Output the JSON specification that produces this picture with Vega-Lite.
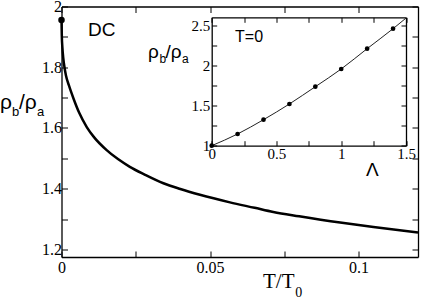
{
  "$schema": "https://vega.github.io/schema/vega-lite/v6.json",
  "width": 356.5,
  "height": 250.5,
  "autosize": {"type": "none"},
  "padding": {"left": 61.5, "top": 6.5, "right": 3, "bottom": 44},
  "background": "white",
  "config": {
    "view": {"stroke": null},
    "axis": {
      "grid": false,
      "domainColor": "black",
      "domainWidth": 1.3,
      "tickColor": "black",
      "tickWidth": 1,
      "labelColor": "black",
      "labelFont": "Liberation Serif",
      "labelFlush": false,
      "labelOverlap": false,
      "title": null
    }
  },
  "datasets": {
    "main": [
      {"T": 0, "r": 1.9555},
      {"T": 0.0001, "r": 1.905},
      {"T": 0.0003, "r": 1.865},
      {"T": 0.0006, "r": 1.83},
      {"T": 0.001, "r": 1.8},
      {"T": 0.0015, "r": 1.773},
      {"T": 0.0025, "r": 1.74},
      {"T": 0.004, "r": 1.698},
      {"T": 0.006, "r": 1.649},
      {"T": 0.0085, "r": 1.603},
      {"T": 0.011, "r": 1.569},
      {"T": 0.0152, "r": 1.527},
      {"T": 0.019, "r": 1.4974},
      {"T": 0.023, "r": 1.472},
      {"T": 0.028, "r": 1.4466},
      {"T": 0.0343, "r": 1.418},
      {"T": 0.04, "r": 1.399},
      {"T": 0.0466, "r": 1.38},
      {"T": 0.0567, "r": 1.355},
      {"T": 0.065, "r": 1.337},
      {"T": 0.0713, "r": 1.3232},
      {"T": 0.08, "r": 1.309},
      {"T": 0.0938, "r": 1.2883},
      {"T": 0.105, "r": 1.2735},
      {"T": 0.12, "r": 1.256}
    ],
    "dot": [{"T": 0, "r": 1.9555}],
    "insetLine": [
      {"L": 0, "v": 1.0},
      {"L": 0.2, "v": 1.146},
      {"L": 0.4, "v": 1.324},
      {"L": 0.6, "v": 1.52},
      {"L": 0.8, "v": 1.735},
      {"L": 1.0, "v": 1.956},
      {"L": 1.2, "v": 2.209},
      {"L": 1.4, "v": 2.458},
      {"L": 1.5, "v": 2.59}
    ],
    "insetPts": [
      {"L": 0, "v": 1.0},
      {"L": 0.2, "v": 1.146},
      {"L": 0.4, "v": 1.324},
      {"L": 0.6, "v": 1.52},
      {"L": 0.8, "v": 1.735},
      {"L": 1.0, "v": 1.956},
      {"L": 1.2, "v": 2.209},
      {"L": 1.4, "v": 2.458}
    ],
    "mainBig": [
      {"t": "ρ", "x": -0.0207, "y": 1.662},
      {"t": "/ρ", "x": -0.01431, "y": 1.662}
    ],
    "mainSub": [
      {"t": "b", "x": -0.0167, "y": 1.6393},
      {"t": "a", "x": -0.00825, "y": 1.6393}
    ],
    "mainSerif": [{"t": "T/T", "x": 0.06784, "y": 1.0728}],
    "mainSerifSub": [{"t": "0", "x": 0.07868, "y": 1.0432}],
    "dc": [{"t": "DC", "x": 0.00892, "y": 1.9012}],
    "insetBig": [
      {"t": "ρ", "x": -0.4918, "y": 2.0928},
      {"t": "/ρ", "x": -0.3567, "y": 2.0928}
    ],
    "insetSub": [
      {"t": "b", "x": -0.4028, "y": 2.0305},
      {"t": "a", "x": -0.2293, "y": 2.0305}
    ],
    "t0": [{"t": "T=0", "x": 0.18, "y": 2.2885}],
    "lam": [{"t": "Λ", "x": 1.191, "y": 0.6224}]
  },
  "resolve": {
    "scale": {"x": "independent", "y": "independent"},
    "axis": {"x": "independent", "y": "independent"}
  },
  "layer": [
    {
      "data": {"name": "main"},
      "mark": {"type": "line", "color": "black", "strokeWidth": 2.5, "interpolate": "monotone"},
      "encoding": {
        "x": {"field": "T", "type": "quantitative",
          "scale": {"domain": [0, 0.12], "nice": false, "zero": false},
          "axis": {"orient": "bottom", "values": [0, 0.025, 0.05, 0.075, 0.1],
            "labelExpr": "abs(round(datum.value*40) % 2) == 1 ? '' : format(datum.value, '~g')",
            "tickSize": -6, "labelPadding": 8.5, "labelFontSize": 16}},
        "y": {"field": "r", "type": "quantitative",
          "scale": {"domain": [1.175, 2.0], "nice": false, "zero": false},
          "axis": {"orient": "left", "values": [1.2, 1.3, 1.4, 1.5, 1.6, 1.7, 1.8, 1.9, 2.0],
            "labelExpr": "round(datum.value*10) % 2 == 1 ? '' : format(datum.value, '~g')",
            "tickSize": -6, "labelPadding": 6, "labelFontSize": 16}}
      }
    },
    {
      "data": {"name": "dot"},
      "mark": {"type": "point", "filled": true, "color": "black", "opacity": 1, "size": 42},
      "encoding": {
        "x": {"field": "T", "type": "quantitative",
          "scale": {"domain": [0, 0.12], "nice": false, "zero": false},
          "axis": {"orient": "top", "values": [0, 0.025, 0.05, 0.075, 0.1], "labels": false, "tickSize": -6}},
        "y": {"field": "r", "type": "quantitative",
          "scale": {"domain": [1.175, 2.0], "nice": false, "zero": false},
          "axis": {"orient": "right", "values": [1.2, 1.3, 1.4, 1.5, 1.6, 1.7, 1.8, 1.9, 2.0], "labels": false, "tickSize": -6}}
      }
    },
    {
      "data": {"name": "insetLine"},
      "mark": {"type": "line", "color": "#222222", "strokeWidth": 1, "interpolate": "monotone"},
      "encoding": {
        "x": {"field": "L", "type": "quantitative",
          "scale": {"domain": [0, 1.5], "range": [150.2, 344.5], "nice": false, "zero": false},
          "axis": {"orient": "bottom", "offset": -111.3, "values": [0, 0.25, 0.5, 0.75, 1, 1.25, 1.5],
            "labelExpr": "round(datum.value*4) % 2 == 1 ? '' : format(datum.value, '~g')",
            "tickSize": -5, "labelPadding": 6, "labelFontSize": 15}},
        "y": {"field": "v", "type": "quantitative",
          "scale": {"domain": [1, 2.6], "range": [139.2, 10.8], "nice": false, "zero": false},
          "axis": {"orient": "left", "offset": -150.2, "values": [1, 1.25, 1.5, 1.75, 2, 2.25, 2.5],
            "labelExpr": "round(datum.value*4) % 2 == 1 ? '' : format(datum.value, '~g')",
            "tickSize": -5, "labelPadding": 7, "labelFontSize": 15}}
      }
    },
    {
      "data": {"name": "insetPts"},
      "mark": {"type": "point", "filled": true, "color": "black", "opacity": 1, "size": 22},
      "encoding": {
        "x": {"field": "L", "type": "quantitative",
          "scale": {"domain": [0, 1.5], "range": [150.2, 344.5], "nice": false, "zero": false},
          "axis": {"orient": "top", "offset": -10.8, "values": [0, 0.25, 0.5, 0.75, 1, 1.25, 1.5], "labels": false, "tickSize": -5}},
        "y": {"field": "v", "type": "quantitative",
          "scale": {"domain": [1, 2.6], "range": [139.2, 10.8], "nice": false, "zero": false},
          "axis": {"orient": "right", "offset": -12, "values": [1, 1.25, 1.5, 1.75, 2, 2.25, 2.5], "labels": false, "tickSize": -5}}
      }
    },
    {
      "data": {"name": "mainBig"},
      "mark": {"type": "text", "font": "Liberation Sans", "fontSize": 21, "align": "left", "baseline": "alphabetic", "color": "black"},
      "encoding": {
        "text": {"field": "t"},
        "x": {"field": "x", "type": "quantitative", "scale": {"domain": [0, 0.12], "nice": false, "zero": false}, "axis": null},
        "y": {"field": "y", "type": "quantitative", "scale": {"domain": [1.175, 2.0], "nice": false, "zero": false}, "axis": null}
      }
    },
    {
      "data": {"name": "mainSub"},
      "mark": {"type": "text", "font": "Liberation Sans", "fontSize": 13, "align": "left", "baseline": "alphabetic", "color": "black"},
      "encoding": {
        "text": {"field": "t"},
        "x": {"field": "x", "type": "quantitative", "scale": {"domain": [0, 0.12], "nice": false, "zero": false}, "axis": null},
        "y": {"field": "y", "type": "quantitative", "scale": {"domain": [1.175, 2.0], "nice": false, "zero": false}, "axis": null}
      }
    },
    {
      "data": {"name": "mainSerif"},
      "mark": {"type": "text", "font": "Liberation Serif", "fontSize": 21, "align": "left", "baseline": "alphabetic", "color": "black"},
      "encoding": {
        "text": {"field": "t"},
        "x": {"field": "x", "type": "quantitative", "scale": {"domain": [0, 0.12], "nice": false, "zero": false}, "axis": null},
        "y": {"field": "y", "type": "quantitative", "scale": {"domain": [1.175, 2.0], "nice": false, "zero": false}, "axis": null}
      }
    },
    {
      "data": {"name": "mainSerifSub"},
      "mark": {"type": "text", "font": "Liberation Serif", "fontSize": 14, "align": "left", "baseline": "alphabetic", "color": "black"},
      "encoding": {
        "text": {"field": "t"},
        "x": {"field": "x", "type": "quantitative", "scale": {"domain": [0, 0.12], "nice": false, "zero": false}, "axis": null},
        "y": {"field": "y", "type": "quantitative", "scale": {"domain": [1.175, 2.0], "nice": false, "zero": false}, "axis": null}
      }
    },
    {
      "data": {"name": "dc"},
      "mark": {"type": "text", "font": "Liberation Sans", "fontSize": 19, "align": "left", "baseline": "alphabetic", "color": "black"},
      "encoding": {
        "text": {"field": "t"},
        "x": {"field": "x", "type": "quantitative", "scale": {"domain": [0, 0.12], "nice": false, "zero": false}, "axis": null},
        "y": {"field": "y", "type": "quantitative", "scale": {"domain": [1.175, 2.0], "nice": false, "zero": false}, "axis": null}
      }
    },
    {
      "data": {"name": "insetBig"},
      "mark": {"type": "text", "font": "Liberation Sans", "fontSize": 19, "align": "left", "baseline": "alphabetic", "color": "black"},
      "encoding": {
        "text": {"field": "t"},
        "x": {"field": "x", "type": "quantitative", "scale": {"domain": [0, 1.5], "range": [150.2, 344.5], "nice": false, "zero": false}, "axis": null},
        "y": {"field": "y", "type": "quantitative", "scale": {"domain": [1, 2.6], "range": [139.2, 10.8], "nice": false, "zero": false}, "axis": null}
      }
    },
    {
      "data": {"name": "insetSub"},
      "mark": {"type": "text", "font": "Liberation Sans", "fontSize": 12, "align": "left", "baseline": "alphabetic", "color": "black"},
      "encoding": {
        "text": {"field": "t"},
        "x": {"field": "x", "type": "quantitative", "scale": {"domain": [0, 1.5], "range": [150.2, 344.5], "nice": false, "zero": false}, "axis": null},
        "y": {"field": "y", "type": "quantitative", "scale": {"domain": [1, 2.6], "range": [139.2, 10.8], "nice": false, "zero": false}, "axis": null}
      }
    },
    {
      "data": {"name": "t0"},
      "mark": {"type": "text", "font": "Liberation Sans", "fontSize": 16, "align": "left", "baseline": "alphabetic", "color": "black"},
      "encoding": {
        "text": {"field": "t"},
        "x": {"field": "x", "type": "quantitative", "scale": {"domain": [0, 1.5], "range": [150.2, 344.5], "nice": false, "zero": false}, "axis": null},
        "y": {"field": "y", "type": "quantitative", "scale": {"domain": [1, 2.6], "range": [139.2, 10.8], "nice": false, "zero": false}, "axis": null}
      }
    },
    {
      "data": {"name": "lam"},
      "mark": {"type": "text", "font": "Liberation Sans", "fontSize": 19, "align": "left", "baseline": "alphabetic", "color": "black"},
      "encoding": {
        "text": {"field": "t"},
        "x": {"field": "x", "type": "quantitative", "scale": {"domain": [0, 1.5], "range": [150.2, 344.5], "nice": false, "zero": false}, "axis": null},
        "y": {"field": "y", "type": "quantitative", "scale": {"domain": [1, 2.6], "range": [139.2, 10.8], "nice": false, "zero": false}, "axis": null}
      }
    }
  ]
}
